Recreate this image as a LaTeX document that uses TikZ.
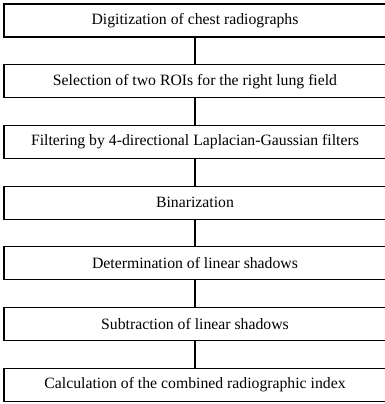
\documentclass[tikz,border=0pt]{standalone}
\usepackage{fontspec}
\setmainfont{Liberation Serif}
\begin{document}
\begin{tikzpicture}[x=1bp,y=-1bp,
  stepbox/.style={draw=black, line width=1.1pt, minimum width=382bp, minimum height=33bp,
    inner sep=0pt, font=\fontsize{15.8}{17}\selectfont, text=black},
  link/.style={draw=black, line width=1.3pt}]
\useasboundingbox (0,0) rectangle (385,404);
\clip (0,0) rectangle (385,404);
\node[stepbox] (b1) at (195,20.5)  {Digitization of chest radiographs};
\node[stepbox] (b2) at (195,81.2)  {Selection of two ROIs for the right lung field};
\node[stepbox] (b3) at (195,141.9) {Filtering by 4-directional Laplacian-Gaussian filters};
\node[stepbox] (b4) at (195,202.6) {Binarization};
\node[stepbox] (b5) at (195,263.3) {Determination of linear shadows};
\node[stepbox] (b6) at (195,324.0) {Subtraction of linear shadows};
\node[stepbox] (b7) at (195,384.7) {Calculation of the combined radiographic index};
\foreach \a/\b in {b1/b2,b2/b3,b3/b4,b4/b5,b5/b6,b6/b7}
  \draw[link] (\a.south) -- (\b.north);
\end{tikzpicture}
\end{document}
